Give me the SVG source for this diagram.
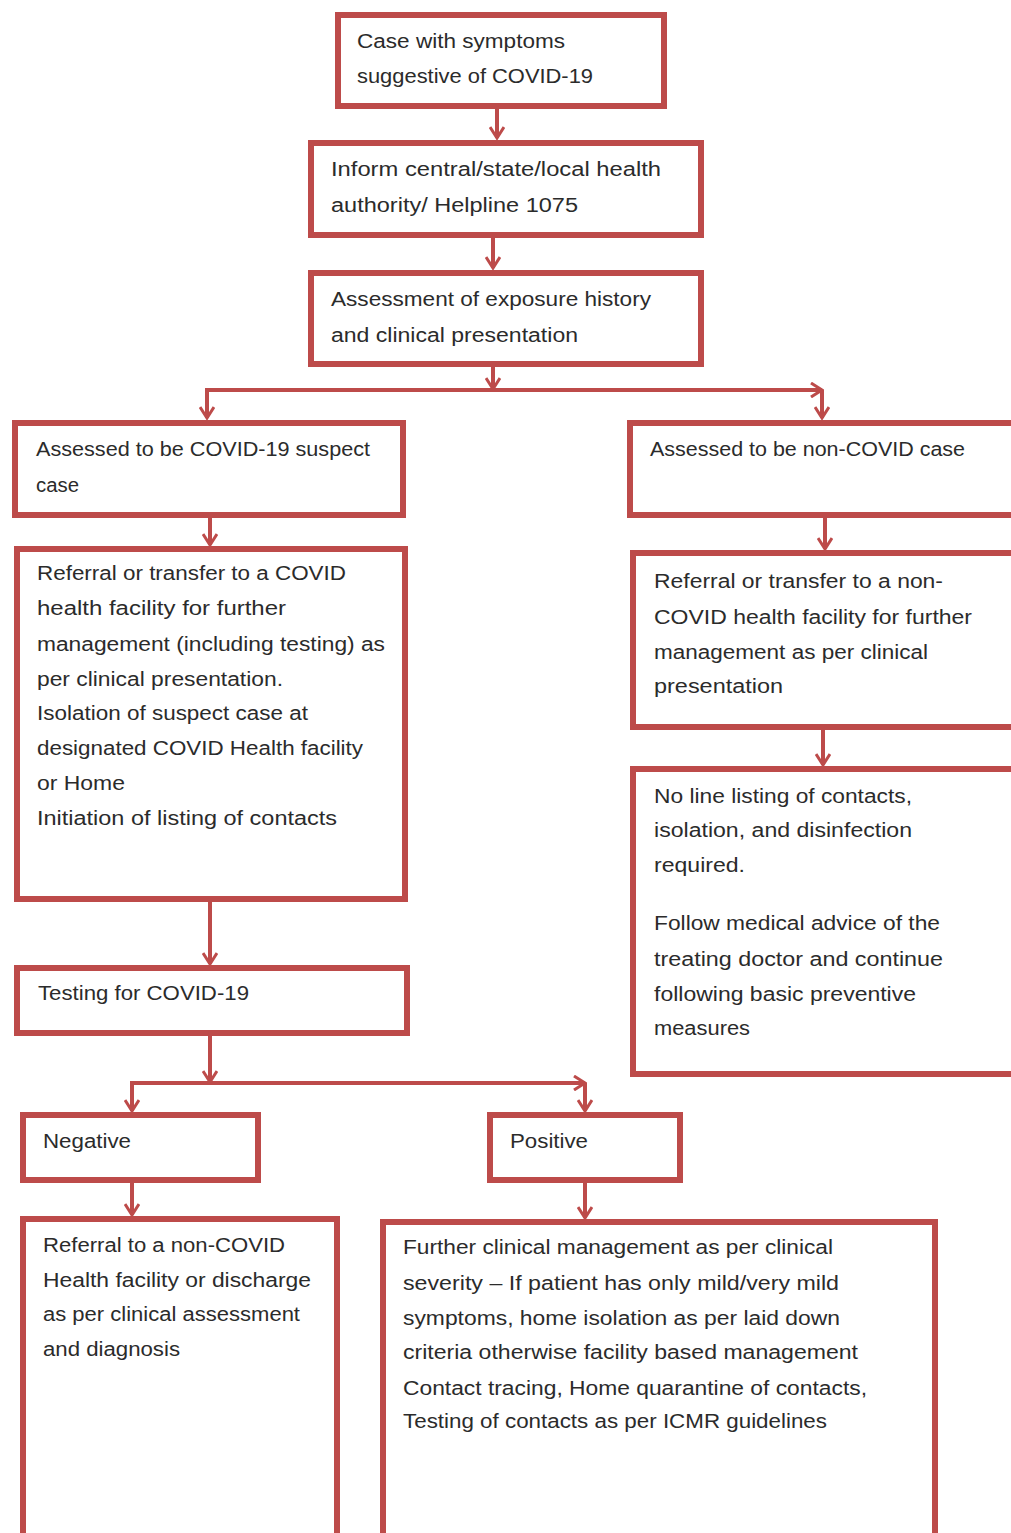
<svg xmlns="http://www.w3.org/2000/svg" width="1011" height="1533" viewBox="0 0 1011 1533">
<style>
.box{fill:#ffffff;stroke:#bd4b4a;stroke-width:6}
.t{font-family:"Liberation Sans",Arial,sans-serif;font-size:20px;fill:#2b2b2b}
.c{fill:none;stroke:#bd4b4a;stroke-width:4}
</style>
<defs>
<marker id="ah" viewBox="0 0 14 16" markerWidth="14" markerHeight="16" refX="12" refY="8" orient="auto" markerUnits="userSpaceOnUse">
<path d="M1,1 L12,8 L1,15" fill="none" stroke="#bd4b4a" stroke-width="3"/>
</marker>
</defs>
<rect width="1011" height="1533" fill="#ffffff"/>
<g id="connectors">
<path class="c" d="M497,109 V138" marker-end="url(#ah)"/>
<path class="c" d="M493,237 V268" marker-end="url(#ah)"/>
<path class="c" d="M493,366 V389" marker-end="url(#ah)"/>
<path class="c" d="M205,390 H822" marker-end="url(#ah)"/>
<path class="c" d="M207,390 V418" marker-end="url(#ah)"/>
<path class="c" d="M822,390 V418" marker-end="url(#ah)"/>
<path class="c" d="M210,518 V545" marker-end="url(#ah)"/>
<path class="c" d="M825,518 V549" marker-end="url(#ah)"/>
<path class="c" d="M823,730 V765" marker-end="url(#ah)"/>
<path class="c" d="M210,902 V964" marker-end="url(#ah)"/>
<path class="c" d="M210,1036 V1082" marker-end="url(#ah)"/>
<path class="c" d="M130,1083 H585" marker-end="url(#ah)"/>
<path class="c" d="M132,1083 V1111" marker-end="url(#ah)"/>
<path class="c" d="M585,1083 V1111" marker-end="url(#ah)"/>
<path class="c" d="M132,1183 V1215" marker-end="url(#ah)"/>
<path class="c" d="M585,1183 V1218" marker-end="url(#ah)"/>
</g>
<g id="n1"><rect class="box" x="338" y="15" width="326" height="91"/>
<text class="t"><tspan x="357" y="48" textLength="208" lengthAdjust="spacingAndGlyphs">Case with symptoms</tspan><tspan x="357" y="83" textLength="236" lengthAdjust="spacingAndGlyphs">suggestive of COVID-19</tspan></text></g>
<g id="n2"><rect class="box" x="311" y="143" width="390" height="92"/>
<text class="t"><tspan x="331" y="176" textLength="330" lengthAdjust="spacingAndGlyphs">Inform central/state/local health</tspan><tspan x="331" y="212" textLength="247" lengthAdjust="spacingAndGlyphs">authority/ Helpline 1075</tspan></text></g>
<g id="n3"><rect class="box" x="311" y="273" width="390" height="91"/>
<text class="t"><tspan x="331" y="306" textLength="320" lengthAdjust="spacingAndGlyphs">Assessment of exposure history</tspan><tspan x="331" y="342" textLength="247" lengthAdjust="spacingAndGlyphs">and clinical presentation</tspan></text></g>
<g id="n4"><rect class="box" x="15" y="423" width="388" height="92"/>
<text class="t"><tspan x="36" y="456" textLength="334" lengthAdjust="spacingAndGlyphs">Assessed to be COVID-19 suspect</tspan><tspan x="36" y="492" textLength="43" lengthAdjust="spacingAndGlyphs">case</tspan></text></g>
<g id="n5"><rect class="box" x="630" y="423" width="400" height="92"/>
<text class="t"><tspan x="650" y="456" textLength="315" lengthAdjust="spacingAndGlyphs">Assessed to be non-COVID case</tspan></text></g>
<g id="n6"><rect class="box" x="17" y="549" width="388" height="350"/>
<text class="t"><tspan x="37" y="580" textLength="309" lengthAdjust="spacingAndGlyphs">Referral or transfer to a COVID</tspan><tspan x="37" y="615" textLength="249" lengthAdjust="spacingAndGlyphs">health facility for further</tspan><tspan x="37" y="651" textLength="348" lengthAdjust="spacingAndGlyphs">management (including testing) as</tspan><tspan x="37" y="686" textLength="246" lengthAdjust="spacingAndGlyphs">per clinical presentation.</tspan><tspan x="37" y="720" textLength="271" lengthAdjust="spacingAndGlyphs">Isolation of suspect case at</tspan><tspan x="37" y="755" textLength="326" lengthAdjust="spacingAndGlyphs">designated COVID Health facility</tspan><tspan x="37" y="790" textLength="88" lengthAdjust="spacingAndGlyphs">or Home</tspan><tspan x="37" y="825" textLength="300" lengthAdjust="spacingAndGlyphs">Initiation of listing of contacts</tspan></text></g>
<g id="n7"><rect class="box" x="633" y="553" width="400" height="174"/>
<text class="t"><tspan x="654" y="588" textLength="289" lengthAdjust="spacingAndGlyphs">Referral or transfer to a non-</tspan><tspan x="654" y="624" textLength="318" lengthAdjust="spacingAndGlyphs">COVID health facility for further</tspan><tspan x="654" y="659" textLength="274" lengthAdjust="spacingAndGlyphs">management as per clinical</tspan><tspan x="654" y="693" textLength="129" lengthAdjust="spacingAndGlyphs">presentation</tspan></text></g>
<g id="n8"><rect class="box" x="633" y="769" width="400" height="305"/>
<text class="t"><tspan x="654" y="803" textLength="258" lengthAdjust="spacingAndGlyphs">No line listing of contacts,</tspan><tspan x="654" y="837" textLength="258" lengthAdjust="spacingAndGlyphs">isolation, and disinfection</tspan><tspan x="654" y="872" textLength="91" lengthAdjust="spacingAndGlyphs">required.</tspan><tspan x="654" y="930" textLength="286" lengthAdjust="spacingAndGlyphs">Follow medical advice of the</tspan><tspan x="654" y="966" textLength="289" lengthAdjust="spacingAndGlyphs">treating doctor and continue</tspan><tspan x="654" y="1001" textLength="262" lengthAdjust="spacingAndGlyphs">following basic preventive</tspan><tspan x="654" y="1035" textLength="96" lengthAdjust="spacingAndGlyphs">measures</tspan></text></g>
<g id="n9"><rect class="box" x="17" y="968" width="390" height="65"/>
<text class="t"><tspan x="38" y="1000" textLength="211" lengthAdjust="spacingAndGlyphs">Testing for COVID-19</tspan></text></g>
<g id="n10"><rect class="box" x="23" y="1115" width="235" height="65"/>
<text class="t"><tspan x="43" y="1148" textLength="88" lengthAdjust="spacingAndGlyphs">Negative</tspan></text></g>
<g id="n11"><rect class="box" x="490" y="1115" width="190" height="65"/>
<text class="t"><tspan x="510" y="1148" textLength="78" lengthAdjust="spacingAndGlyphs">Positive</tspan></text></g>
<g id="n12"><rect class="box" x="23" y="1219" width="314" height="330"/>
<text class="t"><tspan x="43" y="1252" textLength="242" lengthAdjust="spacingAndGlyphs">Referral to a non-COVID</tspan><tspan x="43" y="1287" textLength="268" lengthAdjust="spacingAndGlyphs">Health facility or discharge</tspan><tspan x="43" y="1321" textLength="257" lengthAdjust="spacingAndGlyphs">as per clinical assessment</tspan><tspan x="43" y="1356" textLength="137" lengthAdjust="spacingAndGlyphs">and diagnosis</tspan></text></g>
<g id="n13"><rect class="box" x="383" y="1222" width="552" height="330"/>
<text class="t"><tspan x="403" y="1254" textLength="430" lengthAdjust="spacingAndGlyphs">Further clinical management as per clinical</tspan><tspan x="403" y="1290" textLength="436" lengthAdjust="spacingAndGlyphs">severity – If patient has only mild/very mild</tspan><tspan x="403" y="1325" textLength="437" lengthAdjust="spacingAndGlyphs">symptoms, home isolation as per laid down</tspan><tspan x="403" y="1359" textLength="455" lengthAdjust="spacingAndGlyphs">criteria otherwise facility based management</tspan><tspan x="403" y="1395" textLength="464" lengthAdjust="spacingAndGlyphs">Contact tracing, Home quarantine of contacts,</tspan><tspan x="403" y="1428" textLength="424" lengthAdjust="spacingAndGlyphs">Testing of contacts as per ICMR guidelines</tspan></text></g>
</svg>
